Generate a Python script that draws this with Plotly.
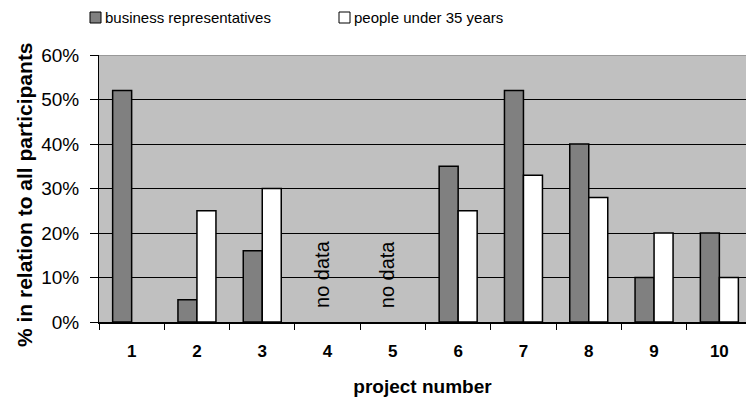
import plotly.graph_objects as go

projects = ["1", "2", "3", "4", "5", "6", "7", "8", "9", "10"]
business = [52, 5, 16, None, None, 35, 52, 40, 10, 20]
under35 = [None, 25, 30, None, None, 25, 33, 28, 20, 10]
no_data_projects = ["4", "5"]
y_ticks = [0, 10, 20, 30, 40, 50, 60]
y_tick_labels = ["0%", "10%", "20%", "30%", "40%", "50%", "60%"]

FONT = "Liberation Sans, Arial, sans-serif"
W, H = 746, 403
L, R, T, B = 99, 0, 55, 81
PW, PH = W - L - R, H - T - B

def px_x(px):
    return (px - L) / PW

def px_y(py):
    return (H - B - py) / PH

fig = go.Figure()
fig.add_trace(go.Bar(x=projects, y=business, name="business representatives",
                     marker=dict(color="#808080", line=dict(color="black", width=1.5))))
fig.add_trace(go.Bar(x=projects, y=under35, name="people under 35 years",
                     marker=dict(color="#ffffff", line=dict(color="black", width=1.5))))

for p in no_data_projects:
    fig.add_annotation(x=projects.index(p), y=10.7, xref="x", yref="y", text="no data",
                       textangle=-90, showarrow=False, xshift=-5,
                       font=dict(family=FONT, size=20, color="black"))

# top border of plot area
fig.add_shape(type="line", xref="paper", yref="y", x0=0, x1=1, y0=60, y1=60,
              line=dict(color="#8c8c8c", width=1.5), layer="above")

# y axis title
fig.add_annotation(x=px_x(24), y=px_y(195), xref="paper", yref="paper",
                   xanchor="center", yanchor="middle", textangle=-90, showarrow=False,
                   text="<b>% in relation to all participants</b>",
                   font=dict(family=FONT, size=21, color="black"))

# manual legend
legend_items = [("business representatives", "#808080", 90, 103),
                ("people under 35 years", "#ffffff", 339, 352)]
for label, col, sx, tx in legend_items:
    fig.add_shape(type="rect", xref="paper", yref="paper",
                  x0=px_x(sx), x1=px_x(sx + 11), y0=px_y(23), y1=px_y(12),
                  fillcolor=col, line=dict(color="black", width=1))
    fig.add_annotation(x=px_x(tx), y=px_y(17.5), xref="paper", yref="paper",
                       xanchor="left", yanchor="middle", text=label, showarrow=False,
                       font=dict(family=FONT, size=15, color="black"))

fig.update_layout(
    width=W, height=H,
    margin=dict(l=L, r=R, t=T, b=B, autoexpand=False),
    paper_bgcolor="white", plot_bgcolor="#c0c0c0",
    barmode="group", bargap=0.418, bargroupgap=0,
    showlegend=False,
    font=dict(family=FONT, color="black"),
    xaxis=dict(type="category", range=[-0.5, 9.408], tickson="boundaries",
               ticks="outside", ticklen=6, tickcolor="black", tickwidth=1,
               showline=True, linecolor="black", linewidth=1.5, showgrid=False,
               tickfont=dict(family=FONT, size=17, color="black", weight="bold"),
               ticklabelstandoff=13,
               title=dict(text="<b>project number</b>", standoff=20,
                          font=dict(family=FONT, size=19, color="black"))),
    yaxis=dict(range=[0, 60], tickvals=y_ticks, ticktext=y_tick_labels,
               ticks="outside", ticklen=8, tickcolor="black", tickwidth=1,
               showline=True, linecolor="black", linewidth=1,
               showgrid=True, gridcolor="black", gridwidth=1, zeroline=False,
               tickfont=dict(family=FONT, size=19, color="black"),
               ticklabelstandoff=7),
)

fig.write_html("out.html", config={"displayModeBar": False},
               post_script="document.body.style.margin='0';")
